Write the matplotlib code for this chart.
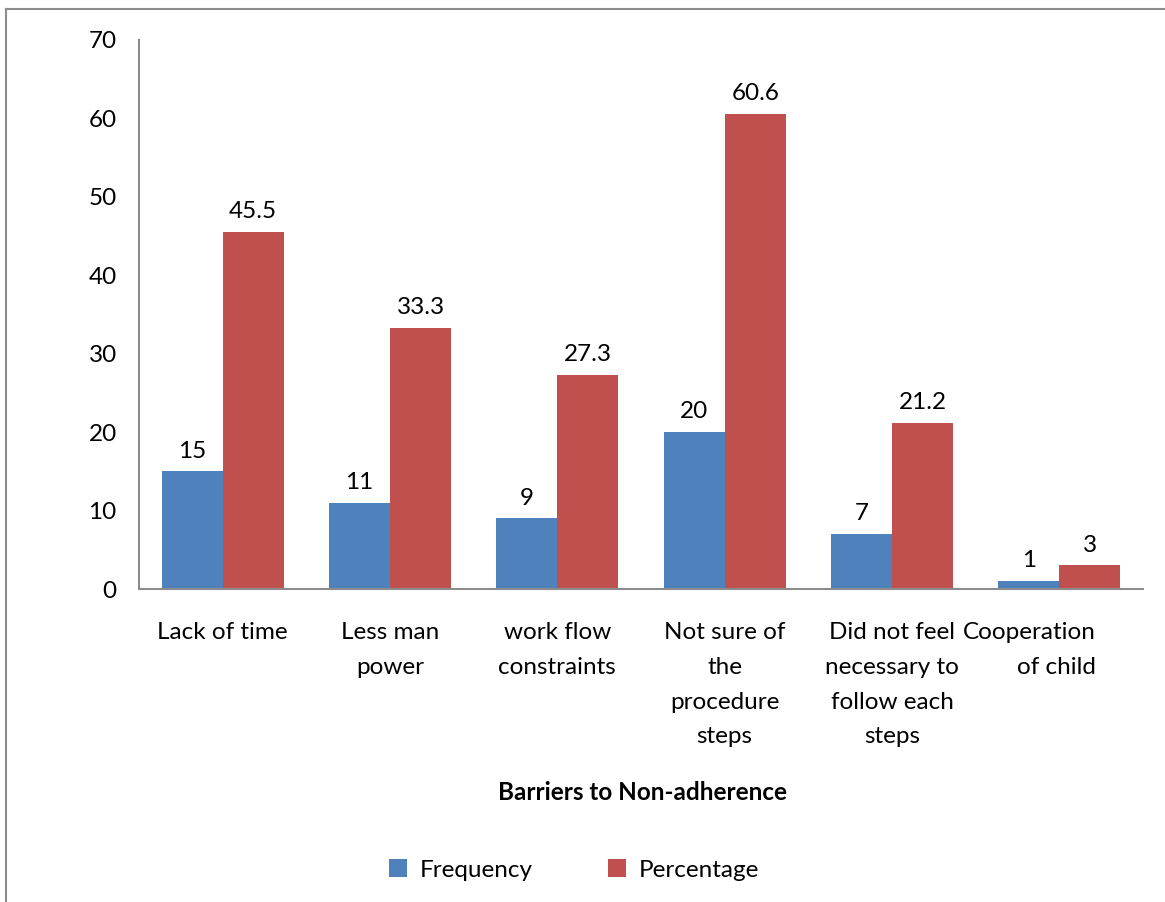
import matplotlib
matplotlib.use("Agg")
import matplotlib.pyplot as plt
from matplotlib.lines import Line2D
import matplotlib.transforms as mtransforms
import numpy as np

plt.rcParams['font.family'] = ['Lato', 'DejaVu Sans']

categories = ["Lack of time", "Less man\npower", "work flow\nconstraints",
              "Not sure of\nthe\nprocedure\nsteps", "Did not feel\nnecessary to\nfollow each\nsteps",
              "Cooperation\nof child"]
frequency = [15, 11, 9, 20, 7, 1]
percentage = [45.5, 33.3, 27.3, 60.6, 21.2, 3]
freq_labels = ["15", "11", "9", "20", "7", "1"]
pct_labels = ["45.5", "33.3", "27.3", "60.6", "21.2", "3"]

blue = "#4F81BD"
red = "#C0504D"
FS = 17.5

fig = plt.figure(figsize=(11.65, 9.02), dpi=100)
W, H = 1165, 902
ax = fig.add_axes([139 / W, 1 - 589 / H, (1143 - 139) / W, (589 - 40) / H])

x = np.arange(len(categories))
bw = 0.365
b1 = ax.bar(x - bw / 2, frequency, bw, color=blue, label="Frequency")
b2 = ax.bar(x + bw / 2, percentage, bw, color=red, label="Percentage")

for rect, lab in zip(b1, freq_labels):
    ax.annotate(lab, (rect.get_x() + rect.get_width() / 2, rect.get_height()),
                xytext=(0, 7), textcoords="offset points", ha="center", va="bottom", fontsize=FS)
for rect, lab in zip(b2, pct_labels):
    ax.annotate(lab, (rect.get_x() + rect.get_width() / 2, rect.get_height()),
                xytext=(0, 7), textcoords="offset points", ha="center", va="bottom", fontsize=FS)

ax.set_xlim(-0.5, len(categories) - 0.5)
ax.set_ylim(0, 70)
ax.set_yticks(np.arange(0, 71, 10))
ax.tick_params(axis='both', length=0, labelsize=FS)
ax.tick_params(axis='y', pad=16)
ax.tick_params(axis='x', pad=24)
ax.set_xticks(x)
ax.set_xticklabels(categories, linespacing=1.8)
last = ax.get_xticklabels()[-1]
last.set_multialignment('right')
last.set_transform(last.get_transform() + mtransforms.ScaledTranslation(-30 / 100, 0, fig.dpi_scale_trans))
for s in ["top", "right"]:
    ax.spines[s].set_visible(False)
for s in ["left", "bottom"]:
    ax.spines[s].set_color("#8C8C8C")
    ax.spines[s].set_linewidth(1.5)

fig.text(642 / W, 1 - 792 / H, "Barriers to Non-adherence", ha="center", va="center",
         fontsize=17.5, fontweight="bold")

ax.legend(loc="center", bbox_to_anchor=(574 / W, 1 - 870 / H), bbox_transform=fig.transFigure,
          ncol=2, frameon=False, fontsize=FS, handlelength=0.75, handleheight=0.75,
          columnspacing=3.1, handletextpad=0.5)

fig.add_artist(Line2D([6 / W, 6 / W], [0, 1 - 9 / H], transform=fig.transFigure, color="#8C8C8C", lw=1.5))
fig.add_artist(Line2D([6 / W, 1], [1 - 9 / H, 1 - 9 / H], transform=fig.transFigure, color="#8C8C8C", lw=1.5))

fig.savefig("out.png", dpi=100, facecolor="white")
